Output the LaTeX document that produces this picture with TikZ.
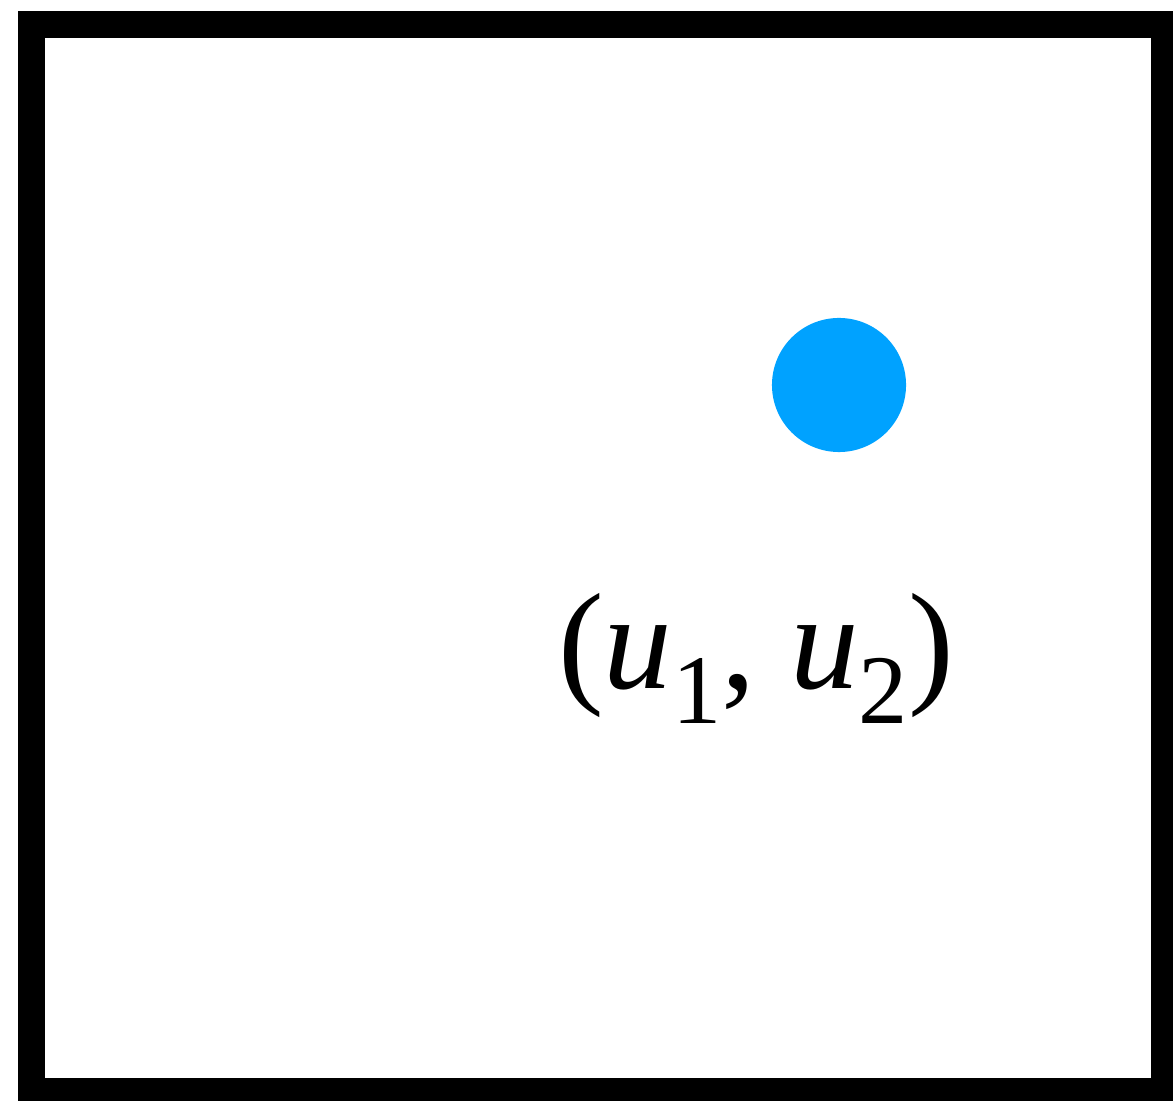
\documentclass[tikz,border=0pt]{standalone}
\usepackage{fontspec}
\setmainfont{Liberation Serif}[ItalicFont={Liberation Serif Italic}]
\usetikzlibrary{positioning}
\definecolor{dotblue}{RGB}{0,162,255}
\newcommand\subidx[1]{\raisebox{-0.25em}{\fontsize{28}{28}\selectfont #1}}

\begin{document}
\begin{tikzpicture}[x=0.01cm,y=-0.01cm]
\useasboundingbox (0,0) rectangle (1173,1101);
\draw[line width=0.27cm] (31.5,24.5) rectangle (1164.5,1091.5);
\node[circle,fill=dotblue,minimum size=1.34cm,inner sep=0pt] (pt) at (839,385) {};
\node[anchor=base,inner sep=0pt,font=\fontsize{39}{39}\selectfont] (ptlabel) at (756,689) {(\textit{u}\subidx{1}, \textit{u}\subidx{2})};
\end{tikzpicture}
\end{document}
